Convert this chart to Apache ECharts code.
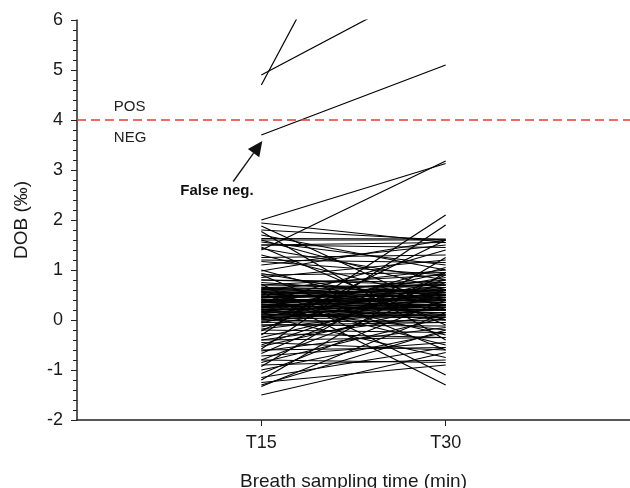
<!DOCTYPE html>
<html>
<head>
<meta charset="utf-8">
<script src="https://cdn.jsdelivr.net/npm/echarts@6/dist/echarts.min.js"></script>
<style>html,body{margin:0;padding:0;background:#fff;}#c{width:630px;height:488px;}</style>
</head>
<body>
<div id="c"></div>
<script>
const times = [15, 30];
const timeLabels = ['T15', 'T30'];
const cutoff = 4;
const dobT15 = [4.7, 4.9, 3.7, 2.0, 1.94, 1.88, 1.8, 1.77, 1.7, 1.63, 1.6, 1.56, 1.5, 1.46, 1.43, 1.4, 1.3, 1.25, 1.17, 1.1,
  1.0, 0.98, 0.93, 0.9, 0.85, 0.8, 0.75, 0.72, 0.7, 0.66, 0.62, 0.6, 0.58, 0.56, 0.54, 0.52, 0.5, 0.48, 0.46, 0.44,
  0.42, 0.4, 0.38, 0.36, 0.34, 0.32, 0.3, 0.28, 0.26, 0.24, 0.22, 0.2, 0.18, 0.16, 0.14, 0.12, 0.1, 0.08, 0.06, 0.04,
  0.02, 0.0, -0.03, -0.06, -0.1, -0.14, -0.18, -0.22, -0.27, -0.3, -0.35, -0.4, -0.45, -0.5, -0.53, -0.58, -0.62, -0.67, -0.72, -0.8,
  -0.85, -0.9, -0.93, -1.0, -1.07, -1.15, -1.2, -1.25, -1.3, -1.33, -1.5,
  0.7, 0.65, 0.6, 0.55, 0.5, 0.45, 0.4, 0.35, 0.3, 0.25, 0.2, 0.15, 0.1, 0.05, 0.0, -0.05,
  0.6, 0.5, 0.4, 0.3, 0.2, 0.1, -0.2, -0.4, -0.6, 1.6, 1.5, 1.2, 0.9, -0.8, 0.8, 0.35,
  0.57, 0.47, 0.37, 0.27, 0.17, 0.07, 0.52, 0.42, 0.32, 0.22, 0.12, 0.02, 0.63, -0.1, 0.45];
const dobT30 = [11.6, 6.85, 5.1, 3.13, 1.55, 0.2, 1.6, -0.4, 1.0, 1.62, 0.6, 1.1, 1.45, -0.1, 0.8, 3.18, 0.4, 1.3, 0.9, 1.5,
  0.0, 1.6, 0.3, -0.6, 1.2, 0.7, 0.5, -1.1, 0.9, 0.4, 0.2, 1.0, -0.3, -1.3, 0.6, 0.35, 0.8, 0.1, 0.55, 0.65,
  -0.5, 0.3, 0.75, 0.45, 1.4, 0.0, 0.6, 0.25, 0.85, 0.5, -0.2, 0.7, 0.4, 0.15, 0.95, 0.55, 0.3, -0.75, 0.65, 0.2,
  1.05, 0.45, 0.35, 0.8, -0.05, 0.6, 0.25, 1.6, -0.35, 2.1, 0.5, 0.1, -0.6, 0.75, 0.3, 1.9, -0.15, 0.9, -0.45, 0.6,
  0.05, -0.8, 1.25, -0.25, 0.4, -0.55, 0.95, -0.9, -0.2, 0.15, -0.65,
  0.65, 0.7, 0.55, 0.6, 0.45, 0.5, 0.45, 0.3, 0.35, 0.2, 0.25, 0.2, 0.05, 0.1, -0.05, 0.0,
  0.7, 0.6, 0.35, 0.2, 0.3, 0.15, -0.25, -0.35, -0.55, 1.6, 1.55, 1.15, 0.95, -0.85, 0.75, 0.4,
  0.52, 0.5, 0.42, 0.3, 0.22, 0.12, 0.58, 0.38, 0.28, 0.26, 0.08, 0.06, 0.6, -0.12, 0.48];

const FONT = 'Liberation Sans, Arial, sans-serif';
const chart = echarts.init(document.getElementById('c'), null, {renderer: 'canvas'});

const series = dobT15.map((v, i) => ({
  type: 'line',
  data: [[times[0], v], [times[1], dobT30[i]]],
  symbol: 'none',
  silent: true,
  animation: false,
  lineStyle: {color: '#000', width: 1.2}
}));
series.push({
  type: 'line',
  data: [],
  silent: true,
  animation: false,
  markLine: {
    silent: true,
    symbol: 'none',
    label: {show: false},
    animation: false,
    lineStyle: {color: '#e53b34', width: 1.5, type: [9, 5]},
    data: [{yAxis: cutoff}]
  }
});

chart.setOption({
  backgroundColor: '#fff',
  animation: false,
  grid: {left: 77, right: 0, top: 20, bottom: 68, containLabel: false, outerBoundsMode: 'none'},
  xAxis: {
    type: 'value', min: 0, max: 45,
    name: 'Breath sampling time (min)', nameLocation: 'middle', nameGap: 52,
    nameTextStyle: {fontFamily: FONT, fontSize: 19, color: '#1a1a1a'},
    axisLine: {show: true, onZero: false, lineStyle: {color: '#222', width: 1.5}},
    axisTick: {show: true, length: 6, customValues: times, lineStyle: {color: '#222'}},
    axisLabel: {customValues: times, margin: 14, fontFamily: FONT, fontSize: 18, color: '#1a1a1a',
      formatter: v => timeLabels[times.indexOf(v)] || ''},
    splitLine: {show: false}
  },
  yAxis: {
    type: 'value', min: -2, max: 6, interval: 1,
    name: 'DOB (‰)', nameLocation: 'middle', nameGap: 46,
    nameTextStyle: {fontFamily: FONT, fontSize: 19, color: '#1a1a1a'},
    axisLine: {show: true, onZero: false, lineStyle: {color: '#222', width: 1.5}},
    axisTick: {show: true, length: 6, lineStyle: {color: '#222'}},
    minorTick: {show: true, splitNumber: 5, length: 4, lineStyle: {color: '#222'}},
    axisLabel: {margin: 14, fontFamily: FONT, fontSize: 18, color: '#1a1a1a'},
    splitLine: {show: false}
  },
  series: series
});

// annotations placed in data coordinates
const px = p => chart.convertToPixel({gridIndex: 0}, p);
const tail = px([12.71, 2.77]);
const tip = px([15.08, 3.58]);
const dx = tip[0] - tail[0], dy = tip[1] - tail[1];
const len = Math.sqrt(dx * dx + dy * dy);
const ux = dx / len, uy = dy / len;
const headLen = 15, headHalf = 7;
const base = [tip[0] - ux * headLen, tip[1] - uy * headLen];
const pos = px([3.0, 4.26]);
const neg = px([3.0, 3.64]);
const fn = px([8.4, 2.59]);

chart.setOption({
  graphic: [
    {type: 'text', silent: true, x: pos[0], y: pos[1], style: {text: 'POS', fill: '#222', font: '15px ' + FONT, verticalAlign: 'middle'}},
    {type: 'text', silent: true, x: neg[0], y: neg[1], style: {text: 'NEG', fill: '#222', font: '15px ' + FONT, verticalAlign: 'middle'}},
    {type: 'text', silent: true, x: fn[0], y: fn[1], style: {text: 'False neg.', fill: '#111', font: 'bold 15px ' + FONT, verticalAlign: 'middle'}},
    {type: 'line', silent: true, shape: {x1: tail[0], y1: tail[1], x2: base[0], y2: base[1]}, style: {stroke: '#111', lineWidth: 1.3}},
    {type: 'polygon', silent: true, shape: {points: [
      tip,
      [base[0] - uy * headHalf, base[1] + ux * headHalf],
      [base[0] + uy * headHalf, base[1] - ux * headHalf]
    ]}, style: {fill: '#111'}}
  ]
});
</script>
</body>
</html>
